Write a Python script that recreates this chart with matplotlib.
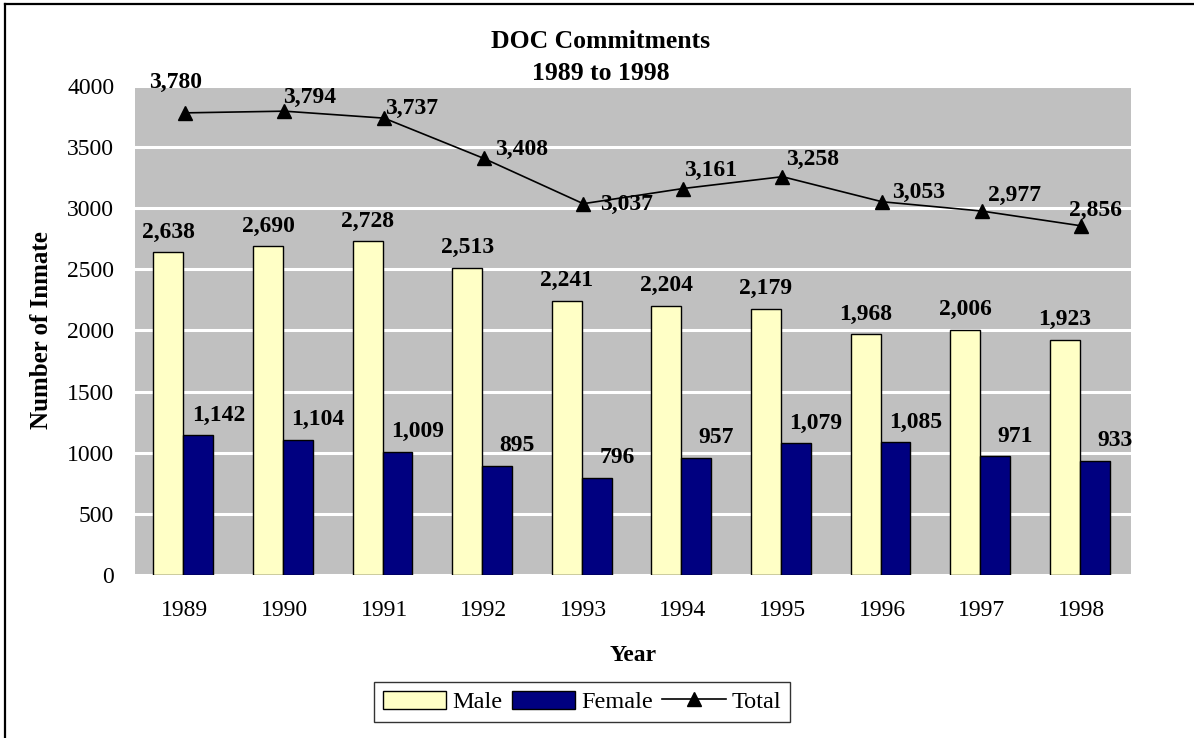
import matplotlib
matplotlib.use("Agg")
import matplotlib.pyplot as plt
from matplotlib.lines import Line2D
import numpy as np

# data
years = ["1989", "1990", "1991", "1992", "1993", "1994", "1995", "1996", "1997", "1998"]
male = [2638, 2690, 2728, 2513, 2241, 2204, 2179, 1968, 2006, 1923]
female = [1142, 1104, 1009, 895, 796, 957, 1079, 1085, 971, 933]
total = [3780, 3794, 3737, 3408, 3037, 3161, 3258, 3053, 2977, 2856]

# label offsets (points) for the hand-placed total labels
total_offsets = [(-6.5, 23.5), (18, 11.5), (20, 8.5), (27.5, 8), (31, 1.5),
                 (20, 15), (21.5, 14.5), (26.5, 8.5), (24, 13), (10, 13)]

plt.rcParams['font.family'] = ['Liberation Serif', 'DejaVu Serif']

fig = plt.figure(figsize=(11.94, 7.38), dpi=100)
ax = fig.add_axes([0.1131, 0.2209, 0.8342, 0.6626])
ax.set_facecolor('#C0C0C0')

x = np.arange(len(years))
w = 0.3
h_male = ax.bar(x - 0.165, male, w, color='#FFFFC6', edgecolor='black', linewidth=1.0,
                label='Male', zorder=3)
h_fem = ax.bar(x + 0.135, female, w, color='#000080', edgecolor='black', linewidth=1.0,
               label='Female', zorder=3)
h_tot, = ax.plot(x, total, color='black', linewidth=1.2, marker='^', markersize=10,
                 label='Total', zorder=4)

for i, v in enumerate(male):
    ax.annotate(f"{v:,}", (x[i] - 0.165, v), xytext=(0, 10.5), textcoords='offset points',
                ha='center', va='baseline', fontsize=17, fontweight='bold', zorder=5)
for i, v in enumerate(female):
    ax.annotate(f"{v:,}", (x[i] + 0.135, v), xytext=(14.5, 10.5), textcoords='offset points',
                ha='center', va='baseline', fontsize=17, fontweight='bold', zorder=5)
for i, v in enumerate(total):
    dx, dy = total_offsets[i]
    ax.annotate(f"{v:,}", (x[i], v), xytext=(dx, dy), textcoords='offset points',
                ha='center', va='center_baseline', fontsize=17, fontweight='bold', zorder=5)

ax.set_xlim(-0.5, len(years) - 0.5)
ax.set_ylim(0, 4000)
ax.set_yticks(range(0, 4001, 500))
ax.set_xticks(x)
ax.set_xticklabels(years)
ax.tick_params(axis='both', length=0, labelsize=17)
ax.tick_params(axis='x', pad=18)
ax.tick_params(axis='y', pad=15)
ax.yaxis.grid(True, color='white', linewidth=2.2)
ax.set_axisbelow(True)
for s in ax.spines.values():
    s.set_visible(False)

ax.set_xlabel('Year', fontsize=17, fontweight='bold', labelpad=17)
ax.set_ylabel('Number of Inmate', fontsize=18, fontweight='bold', labelpad=10)

fig.text(0.503, 0.944, 'DOC Commitments', ha='center', va='center',
         fontsize=18.5, fontweight='bold')
fig.text(0.503, 0.901, '1989 to 1998', ha='center', va='center',
         fontsize=18.5, fontweight='bold')

leg = fig.legend(handles=[h_male, h_fem, h_tot], loc='center',
                 bbox_to_anchor=(0.4874, 0.0488), ncol=3,
                 fontsize=17.5, frameon=True, fancybox=False, edgecolor='black',
                 handlelength=2.6, handleheight=0.8, handletextpad=0.25,
                 columnspacing=0.4, borderpad=0.35, borderaxespad=0)
leg.get_frame().set_linewidth(1.0)

# outer chart border (left and top visible in the reference)
fig.add_artist(Line2D([0.0045, 0.0045], [0.0, 0.995], color='black', linewidth=1.6,
                      transform=fig.transFigure))
fig.add_artist(Line2D([0.0045, 1.0], [0.995, 0.995], color='black', linewidth=1.6,
                      transform=fig.transFigure))

fig.savefig('out.png', dpi=100)
